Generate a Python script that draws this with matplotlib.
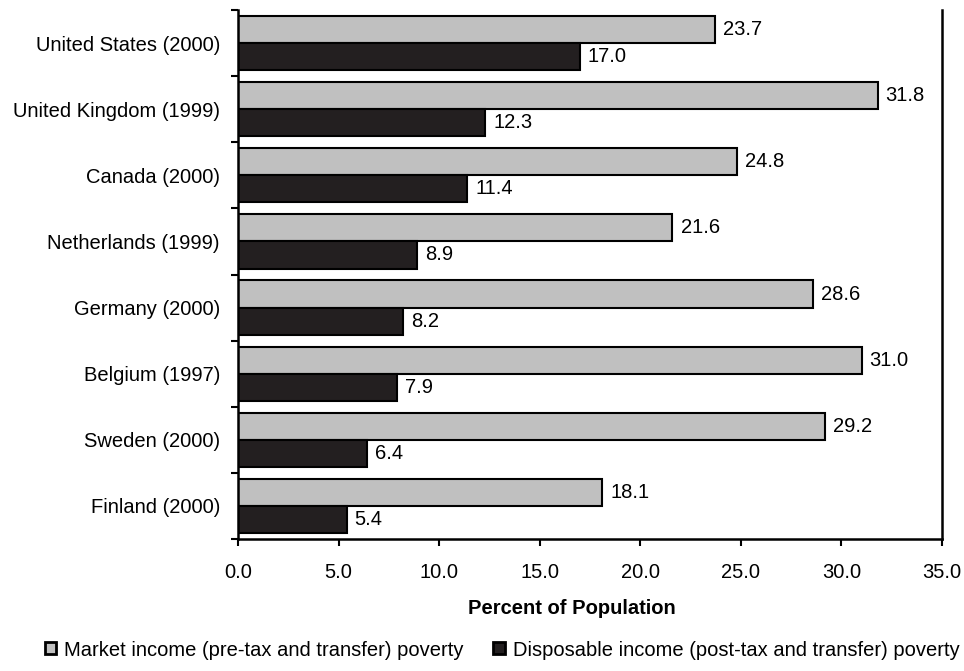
import matplotlib
matplotlib.use("Agg")
import matplotlib.pyplot as plt
import numpy as np
from matplotlib.patches import Patch

plt.rcParams['font.family'] = ['Liberation Sans', 'DejaVu Sans']

countries = ["United States (2000)", "United Kingdom (1999)", "Canada (2000)",
             "Netherlands (1999)", "Germany (2000)", "Belgium (1997)",
             "Sweden (2000)", "Finland (2000)"]
market = [23.7, 31.8, 24.8, 21.6, 28.6, 31.0, 29.2, 18.1]
disposable = [17.0, 12.3, 11.4, 8.9, 8.2, 7.9, 6.4, 5.4]
xticks = [0, 5, 10, 15, 20, 25, 30, 35]
legend_labels = ["Market income (pre-tax and transfer) poverty",
                 "Disposable income (post-tax and transfer) poverty"]

fs = 14.5

fig = plt.figure(figsize=(9.64, 6.71), dpi=100)
ax = fig.add_axes([238/964, 1-539/671, (942-238)/964, (539-10)/671])

n = len(countries)
y = np.arange(n)[::-1].astype(float)
h = 0.41
gray = '#c0c0c0'
dark = '#231f20'
ax.barh(y + h/2, market, height=h, color=gray, edgecolor='black', linewidth=1.5)
ax.barh(y - h/2, disposable, height=h, color=dark, edgecolor='black', linewidth=1.5)

for yi, v in zip(y, market):
    ax.text(v + 0.4, yi + h/2, f"{v:.1f}", va='center', ha='left', fontsize=fs)
for yi, v in zip(y, disposable):
    ax.text(v + 0.4, yi - h/2, f"{v:.1f}", va='center', ha='left', fontsize=fs)

ax.set_xlim(0, 35)
ax.set_ylim(-0.5, n - 0.5)
ax.set_xticks(xticks)
ax.set_xticklabels([f"{t:.1f}" for t in xticks], fontsize=fs)
ax.set_yticks(np.arange(-0.5, n, 1.0))
ax.set_yticklabels([])
ax.set_yticks(y, minor=True)
ax.set_yticklabels(countries, minor=True, fontsize=fs)
ax.tick_params(axis='y', which='minor', length=0, pad=13)
ax.tick_params(axis='y', which='major', length=5, width=1.5, direction='out')
ax.tick_params(axis='x', length=5, width=1.5, direction='out', pad=12)
ax.spines['top'].set_visible(False)
for s in ['left', 'right', 'bottom']:
    ax.spines[s].set_linewidth(1.8)

ax.set_xlabel("Percent of Population", fontsize=fs, fontweight='bold')
ax.xaxis.set_label_coords((572-238)/704, -(608-539)/529, transform=ax.transAxes)
ax.xaxis.label.set_va('center')

handles = [Patch(facecolor=gray, edgecolor='black', linewidth=2),
           Patch(facecolor=dark, edgecolor='black', linewidth=2)]
fig.legend(handles, legend_labels, loc='center', bbox_to_anchor=(502/964, 1-650/671),
           ncol=2, frameon=False, prop={'size': fs},
           handlelength=0.55, handleheight=0.55, handletextpad=0.4, columnspacing=1.5,
           borderpad=0, borderaxespad=0)

fig.savefig("out.png", dpi=100)
